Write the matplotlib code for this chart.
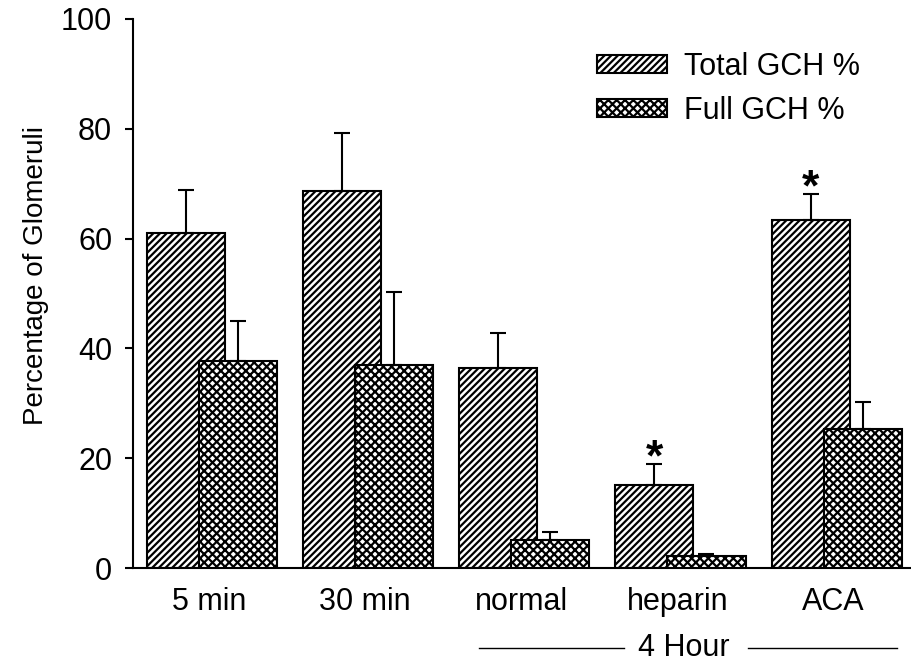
import matplotlib
matplotlib.use("Agg")
import matplotlib.pyplot as plt
import matplotlib.transforms as mtransforms
import numpy as np

plt.rcParams['font.family'] = ['Liberation Sans', 'DejaVu Sans']
plt.rcParams['hatch.linewidth'] = 1.6

categories = ["5 min", "30 min", "normal", "heparin", "ACA"]
total_gch = [61.0, 68.7, 36.4, 15.1, 63.3]
total_err = [7.9, 10.5, 6.4, 3.8, 4.8]
full_gch = [37.7, 37.0, 5.1, 2.1, 25.3]
full_err = [7.3, 13.3, 1.5, 0.5, 4.9]
starred = [3, 4]  # groups marked with *

fs = 22
x = np.arange(len(categories))
w = 0.5
off = 1 / 6

fig = plt.figure(figsize=(9.11, 6.65), dpi=100)
ax = fig.add_axes([133 / 911, 97 / 665, 777 / 911, 549 / 665])

b1 = ax.bar(x - off, total_gch, w, color="white", edgecolor="black", linewidth=1.5,
            hatch="/////", label="Total GCH %", zorder=2)
ax.errorbar(x - off, total_gch, yerr=[np.zeros(len(x)), total_err], fmt="none",
            ecolor="black", elinewidth=1.5, capsize=6, capthick=1.5, zorder=2.5)
b2 = ax.bar(x + off, full_gch, w, color="white", edgecolor="black", linewidth=1.5,
            hatch="xxxx", label="Full GCH %", zorder=3)
ax.errorbar(x + off, full_gch, yerr=[np.zeros(len(x)), full_err], fmt="none",
            ecolor="black", elinewidth=1.5, capsize=6, capthick=1.5, zorder=3.5)

for i in starred:
    ax.text(x[i] - off, total_gch[i] + total_err[i] - 2.7, "*", ha="center", va="bottom",
            fontsize=32, fontweight="bold")

ax.set_xlim(-0.506, 4.47)
ax.set_ylim(0, 100)
ax.set_yticks([0, 20, 40, 60, 80, 100])
ax.set_xticks(x - 0.02)
ax.set_xticklabels(categories)
ax.tick_params(axis="y", direction="out", length=6, width=1.5, labelsize=fs, pad=9)
ax.tick_params(axis="x", length=0, labelsize=fs, pad=14)
for s in ["top", "right"]:
    ax.spines[s].set_visible(False)
ax.spines["left"].set_linewidth(1.5)
ax.spines["bottom"].set_linewidth(1.5)
ax.set_ylabel("Percentage of Glomeruli", fontsize=20)
ax.yaxis.set_label_coords(-0.108, 0.532)

# "4 Hour" group label under the last three categories
trans = mtransforms.blended_transform_factory(ax.transData, ax.transAxes)
ax.plot([1.709, 2.637], [-0.1457, -0.1457], color="black", lw=1, transform=trans, clip_on=False)
ax.plot([3.430, 4.384], [-0.1457, -0.1457], color="black", lw=1, transform=trans, clip_on=False)
ax.text(3.02, -0.1457, "4 Hour", transform=trans, ha="center", va="center", fontsize=fs)

ax.legend(handles=[b1, b2], loc="upper left", bbox_to_anchor=(597 / 911, 1 - 52 / 665),
          bbox_transform=fig.transFigure, frameon=False, fontsize=fs, borderpad=0,
          borderaxespad=0, handlelength=2.3, handleheight=0.5, handletextpad=0.55,
          labelspacing=0.45)

fig.savefig("out.png", dpi=100)
